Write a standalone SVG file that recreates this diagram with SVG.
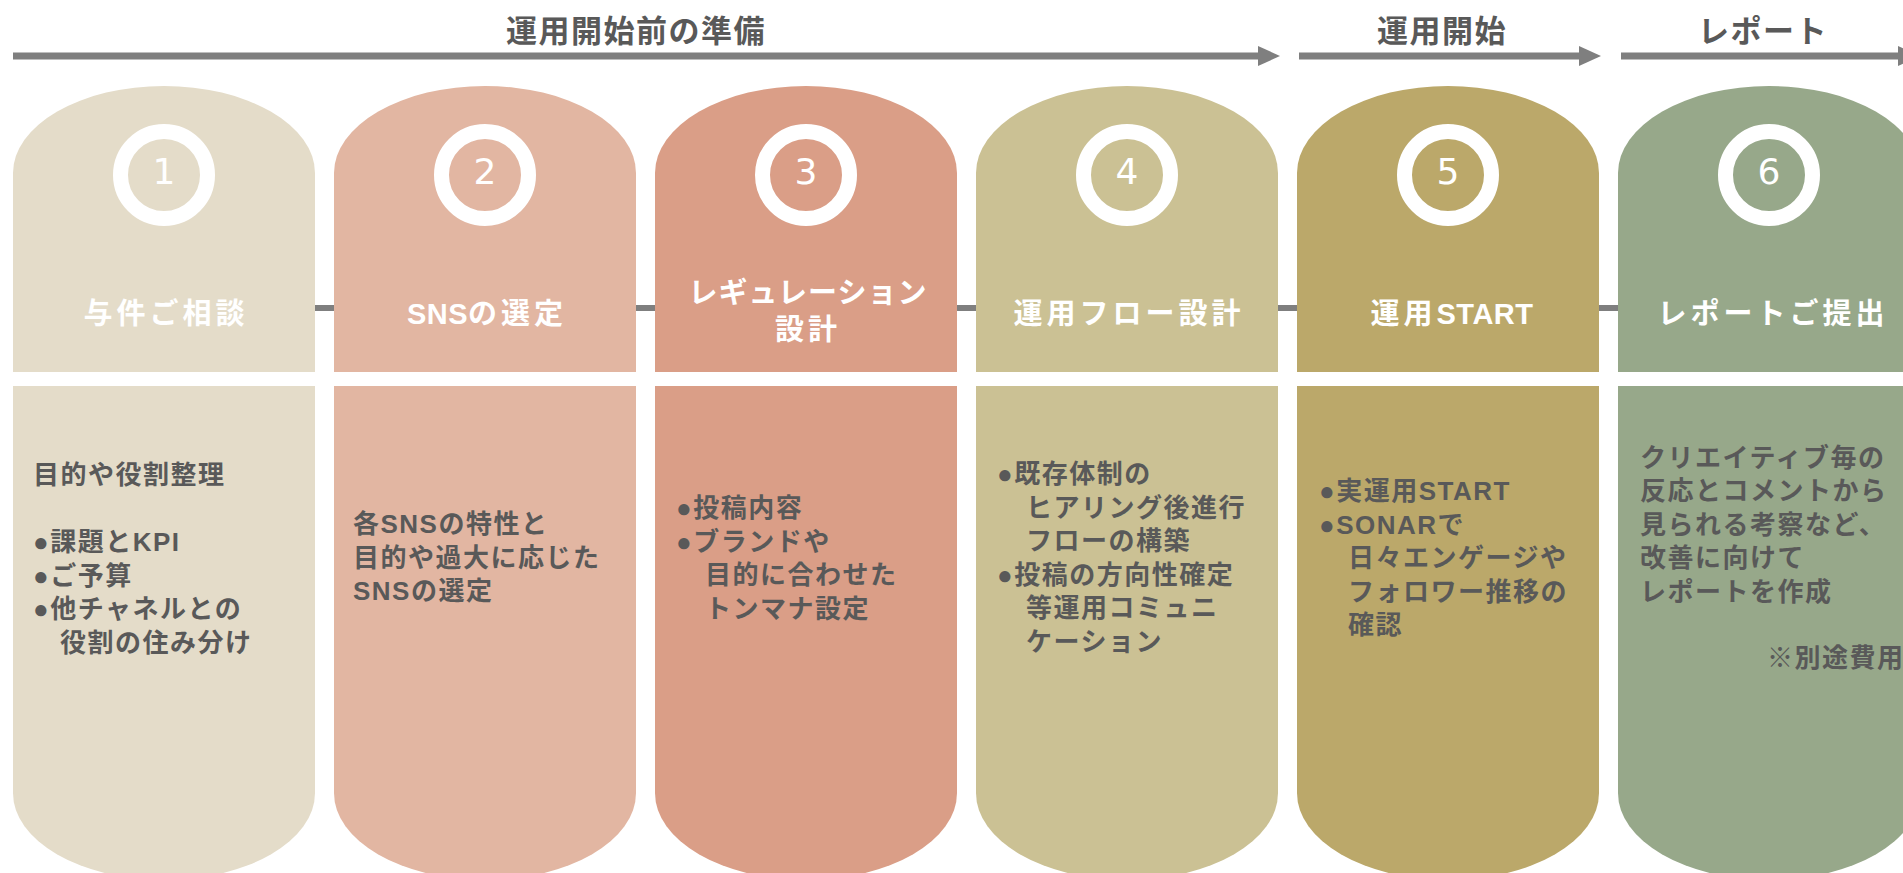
<svg xmlns="http://www.w3.org/2000/svg" width="1903" height="873" viewBox="0 0 1903 873">
  <defs>
    <style>
      .title { font-family: "Liberation Sans", "Noto Sans CJK JP", sans-serif; font-weight: bold; font-size: 31px; fill: #595959; letter-spacing: 1.5px; text-anchor: middle; dominant-baseline: central; }
      .label { font-family: "Liberation Sans", "Noto Sans CJK JP", sans-serif; font-weight: bold; font-size: 29px; fill: #ffffff; letter-spacing: 4px; text-anchor: middle; dominant-baseline: central; }
      .tight { letter-spacing: 1px; }
      .lat { letter-spacing: 0.5px; }
      .num { font-family: "DejaVu Sans", sans-serif; font-size: 36px; fill: #ffffff; text-anchor: middle; dominant-baseline: central; }
      .body { font-family: "Liberation Sans", "Noto Sans CJK JP", sans-serif; font-weight: bold; font-size: 26px; fill: #595959; letter-spacing: 1.5px; dominant-baseline: central; }
      .ring { fill: none; stroke: #ffffff; stroke-width: 15; }
      .phase { stroke: #7f7f7f; stroke-width: 7; fill: none; }
      .conn { stroke: #7f7f7f; stroke-width: 6; }
    </style>
    <marker id="head" markerUnits="userSpaceOnUse" markerWidth="22" markerHeight="20" refX="0" refY="10" orient="auto">
      <path d="M0,0 L22,10 L0,20 Z" fill="#7f7f7f"/>
    </marker>
  </defs>

  <rect x="0" y="0" width="1903" height="873" fill="#ffffff"/>

  <g id="phases">
    <line class="phase" x1="13" y1="56" x2="1258" y2="56" marker-end="url(#head)"/>
    <line class="phase" x1="1299" y1="56" x2="1579" y2="56" marker-end="url(#head)"/>
    <line class="phase" x1="1621" y1="56" x2="1898" y2="56" marker-end="url(#head)"/>
    <text class="title" x="636" y="31">運用開始前の準備</text>
    <text class="title" x="1442" y="31">運用開始</text>
    <text class="title" x="1763" y="31">レポート</text>
  </g>

  <g id="connectors">
    <line class="conn" x1="310" y1="308" x2="340" y2="308"/>
    <line class="conn" x1="631" y1="308" x2="661" y2="308"/>
    <line class="conn" x1="952" y1="308" x2="982" y2="308"/>
    <line class="conn" x1="1273" y1="308" x2="1303" y2="308"/>
    <line class="conn" x1="1594" y1="308" x2="1624" y2="308"/>
  </g>

  <g id="step1">
    <path d="M13,372 L13,173 A151,87 0 0 1 315,173 L315,372 Z" fill="#e4dcc9"/>
    <path d="M13,386 L315,386 L315,793 A151,87 0 0 1 13,793 Z" fill="#e4dcc9"/>
    <circle class="ring" cx="164" cy="175" r="43.5"/>
    <text class="num" x="164" y="171">1</text>
    <text class="label" x="166" y="314">与件ご相談</text>
    <text class="body" x="33" y="475">目的や役割整理</text>
    <text class="body" x="33" y="542">●課題とKPI</text>
    <text class="body" x="33" y="575.5">●ご予算</text>
    <text class="body" x="33" y="609">●他チャネルとの</text>
    <text class="body" x="60" y="642.5">役割の住み分け</text>
  </g>

  <g id="step2">
    <path d="M334,372 L334,173 A151,87 0 0 1 636,173 L636,372 Z" fill="#e2b6a2"/>
    <path d="M334,386 L636,386 L636,793 A151,87 0 0 1 334,793 Z" fill="#e2b6a2"/>
    <circle class="ring" cx="485" cy="175" r="43.5"/>
    <text class="num" x="485" y="171">2</text>
    <text class="label" x="487" y="314"><tspan class="lat">SNS</tspan>の選定</text>
    <text class="body" x="353" y="524">各SNSの特性と</text>
    <text class="body" x="353" y="557.5">目的や過大に応じた</text>
    <text class="body" x="353" y="591">SNSの選定</text>
  </g>

  <g id="step3">
    <path d="M655,372 L655,173 A151,87 0 0 1 957,173 L957,372 Z" fill="#da9e87"/>
    <path d="M655,386 L957,386 L957,793 A151,87 0 0 1 655,793 Z" fill="#da9e87"/>
    <circle class="ring" cx="806" cy="175" r="43.5"/>
    <text class="num" x="806" y="171">3</text>
    <text class="label tight" x="808" y="293">レギュレーション</text>
    <text class="label" x="808" y="330">設計</text>
    <text class="body" x="676" y="508">●投稿内容</text>
    <text class="body" x="676" y="541.5">●ブランドや</text>
    <text class="body" x="705" y="575">目的に合わせた</text>
    <text class="body" x="705" y="608.5">トンマナ設定</text>
  </g>

  <g id="step4">
    <path d="M976,372 L976,173 A151,87 0 0 1 1278,173 L1278,372 Z" fill="#cbc194"/>
    <path d="M976,386 L1278,386 L1278,793 A151,87 0 0 1 976,793 Z" fill="#cbc194"/>
    <circle class="ring" cx="1127" cy="175" r="43.5"/>
    <text class="num" x="1127" y="171">4</text>
    <text class="label" x="1129" y="314">運用フロー設計</text>
    <text class="body" x="997" y="474">●既存体制の</text>
    <text class="body" x="1026" y="507.5">ヒアリング後進行</text>
    <text class="body" x="1026" y="541">フローの構築</text>
    <text class="body" x="997" y="574.5">●投稿の方向性確定</text>
    <text class="body" x="1026" y="608">等運用コミュニ</text>
    <text class="body" x="1026" y="641.5">ケーション</text>
  </g>

  <g id="step5">
    <path d="M1297,372 L1297,173 A151,87 0 0 1 1599,173 L1599,372 Z" fill="#bba86a"/>
    <path d="M1297,386 L1599,386 L1599,793 A151,87 0 0 1 1297,793 Z" fill="#bba86a"/>
    <circle class="ring" cx="1448" cy="175" r="43.5"/>
    <text class="num" x="1448" y="171">5</text>
    <text class="label" x="1452" y="314">運用<tspan class="lat">START</tspan></text>
    <text class="body" x="1319" y="491">●実運用START</text>
    <text class="body" x="1319" y="524.5">●SONARで</text>
    <text class="body" x="1348" y="558">日々エンゲージや</text>
    <text class="body" x="1348" y="591.5">フォロワー推移の</text>
    <text class="body" x="1348" y="625">確認</text>
  </g>

  <g id="step6">
    <path d="M1618,372 L1618,173 A151,87 0 0 1 1920,173 L1920,372 Z" fill="#97a88a"/>
    <path d="M1618,386 L1920,386 L1920,793 A151,87 0 0 1 1618,793 Z" fill="#97a88a"/>
    <circle class="ring" cx="1769" cy="175" r="43.5"/>
    <text class="num" x="1769" y="171">6</text>
    <text class="label" x="1773" y="314">レポートご提出</text>
    <text class="body" x="1640" y="457.5">クリエイティブ毎の</text>
    <text class="body" x="1640" y="491">反応とコメントから</text>
    <text class="body" x="1640" y="524.5">見られる考察など、</text>
    <text class="body" x="1640" y="558">改善に向けて</text>
    <text class="body" x="1640" y="591.5">レポートを作成</text>
    <text class="body" x="1767" y="658">※別途費用</text>
  </g>
</svg>
